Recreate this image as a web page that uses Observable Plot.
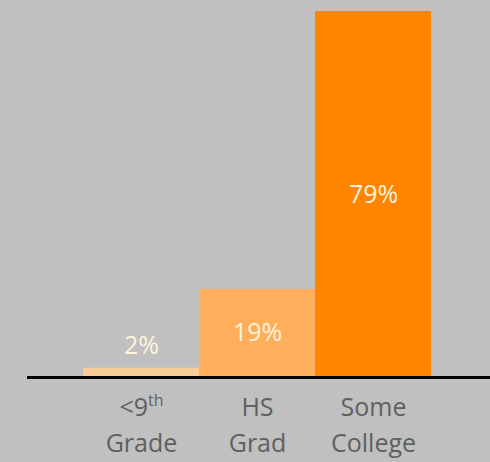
<!DOCTYPE html>
<html>
<head>
<meta charset="utf-8">
<script src="https://cdn.jsdelivr.net/npm/d3@7"></script>
<script src="https://cdn.jsdelivr.net/npm/@observablehq/plot@0.6"></script>
<style>
  html, body { margin: 0; padding: 0; background: #c0c0c0; }
  #chart svg { display: block; background: #c0c0c0; }
</style>
</head>
<body>
<div id="chart"></div>
<script>
const categories = ["<9th\nGrade", "HS\nGrad", "Some\nCollege"];
const values = [2, 19, 79];
const valueLabels = ["2%", "19%", "79%"];
const barColors = ["#f8cd98", "#ffae5c", "#ff8400"];

const data = categories.map((c, i) => ({cat: c, value: values[i], label: valueLabels[i], color: barColors[i]}));

const chart = Plot.plot({
  width: 490,
  height: 462,
  marginLeft: 27,
  marginRight: 0,
  marginTop: 11,
  marginBottom: 85,
  style: {background: "#c0c0c0", fontFamily: "'Open Sans', sans-serif"},
  x: {domain: categories, paddingInner: 0, paddingOuter: 0.487, align: 0.485, axis: null},
  y: {domain: [0, 79], axis: null},
  marks: [
    Plot.barY(data, {x: "cat", y: "value", fill: "color"}),
    Plot.ruleY([0], {stroke: "#000", strokeWidth: 3}),
    Plot.text(data.filter(d => d.value >= 10), {x: "cat", y: d => d.value / 2, text: "label", fill: "#fff3dc", fontSize: 25}),
    Plot.text(data.filter(d => d.value < 10), {x: "cat", y: "value", text: "label", fill: "#fff3dc", fontSize: 25, dy: -22}),
    Plot.text(data, {x: "cat", y: 0, text: "cat", fill: "#606060", fontSize: 25, lineAnchor: "top", lineHeight: 1.44, dy: 13, style: "letter-spacing:0.8px"})
  ]
});

// superscript "th"
chart.querySelectorAll("tspan").forEach(t => {
  if (t.textContent === "<9th") {
    t.textContent = "<9";
    const s = document.createElementNS("http://www.w3.org/2000/svg", "tspan");
    s.textContent = "th";
    s.setAttribute("font-size", "16");
    s.setAttribute("baseline-shift", "10");
    t.appendChild(s);
  }
});

document.getElementById("chart").appendChild(chart);
</script>
</body>
</html>
